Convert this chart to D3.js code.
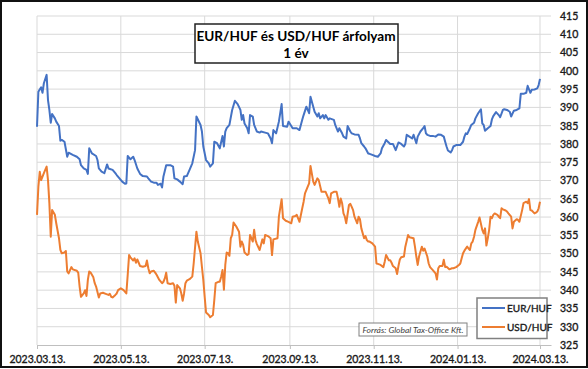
<!DOCTYPE html>
<html>
<head>
<meta charset="utf-8">
<script src="https://cdn.jsdelivr.net/npm/d3@7"></script>
<style>
  body { margin: 0; background: #fff; }
  svg { display: block; font-family: Lato, "Open Sans", sans-serif; }
</style>
</head>
<body>
<svg id="chart" width="588" height="369"></svg>
<script>
// first day of the period, all series positions are days counted from here
const startDate = "2023-03-13";

// EUR/HUF
const eurDays = [
  0,1,3,4,5,7,8,9,10,11,
  13,14,16,17,18,20,22,23,26,29,
  31,32,34,36,37,38,40,43,44,45,
  47,49,51,52,55,57,58,60,62,64,
  65,66,68,70,71,73,75,77,80,81,
  83,85,87,88,90,91,92,94,97,99,
  100,102,104,106,107,109,111,113,115,116,
  119,120,121,123,125,126,128,129,131,133,
  135,136,137,138,140,142,144,146,148,149,
  150,151,153,154,155,157,158,160,162,163,
  166,168,170,171,172,174,176,178,179,182,
  183,185,186,189,191,193,194,196,197,198,
  199,201,202,204,205,206,208,209,210,212,
  213,216,217,219,220,222,223,225,226,228,
  229,231,234,235,236,238,239,241,242,244,
  246,248,250,251,253,254,257,259,261,263,
  265,267,268,269,271,273,274,276,277,279,
  281,282,283,284,286,288,290,292,294,296,
  297,298,299,301,302,303,305,308,310,311,
  312,313,315,316,318,319,321,323,324,325,
  326,328,330,331,332,334,336,337,339,340,
  342,344,345,347,349,351,352,354,356,357,
  359,360,362,364,365,366
];
const eurValues = [
  384.7,394.3,395.5,394.0,396.6,398.9,392.0,389.3,385.8,388.2,
  387.0,386.1,384.9,380.9,381.1,380.6,376.5,377.6,377.0,376.5,
  375.8,374.2,373.3,372.9,371.8,378.8,377.4,376.7,375.6,373.3,
  372.4,372.0,374.4,373.3,372.9,372.0,371.5,370.6,369.7,369.1,
  369.2,376.7,375.8,376.5,375.6,373.3,371.8,371.2,371.1,370.6,
  369.7,369.4,369.4,368.8,369.1,368.1,371.1,374.2,374.2,373.8,
  370.6,370.3,369.7,369.0,371.1,371.2,372.9,374.7,378.3,387.5,
  385.2,383.4,379.3,375.6,374.7,373.8,374.7,380.6,380.2,378.8,
  382.2,379.3,383.4,384.3,385.2,389.3,391.8,390.9,389.3,386.6,
  387.9,385.6,384.3,382.9,387.9,387.5,385.2,383.4,383.1,383.4,
  383.1,382.9,381.5,380.2,383.8,382.9,386.1,390.9,384.9,384.7,
  386.1,384.9,384.3,384.3,383.8,386.6,387.9,390.2,389.3,388.4,
  392.9,390.2,388.8,387.5,388.4,387.0,387.9,387.0,387.9,386.6,
  387.0,386.6,385.2,383.4,384.3,382.9,382.0,381.5,384.9,383.4,
  382.9,382.6,382.5,381.5,380.2,379.3,378.8,377.4,377.3,377.0,
  376.7,376.5,377.4,378.8,380.2,381.1,380.0,380.0,378.3,380.4,
  380.0,379.3,380.0,382.5,382.0,381.5,382.5,380.2,382.0,383.4,
  384.3,384.9,382.9,382.5,382.2,382.2,382.0,382.6,382.5,382.0,
  380.6,379.3,378.2,377.7,378.3,379.3,379.7,379.7,380.6,382.0,
  382.9,382.7,384.3,385.2,385.8,387.0,388.4,389.5,385.6,385.2,
  383.6,384.3,384.9,386.7,387.6,388.7,387.9,387.3,389.3,389.5,
  389.3,388.8,387.5,389.1,389.3,389.7,393.7,393.7,394.0,395.9,
  394.0,394.8,394.9,395.2,396.1,397.8
];

// USD/HUF
const usdDays = [
  0,1,2,3,5,7,8,9,10,11,
  13,14,16,17,18,20,21,22,23,25,
  26,29,30,31,32,34,35,36,37,38,
  39,41,42,43,45,46,48,50,52,53,
  54,55,57,58,59,61,63,65,66,67,
  68,70,71,72,73,74,75,77,79,80,
  81,82,83,85,86,87,89,91,92,93,
  94,95,97,99,100,101,102,104,105,106,
  107,108,109,111,113,114,116,117,119,120,
  121,122,123,125,126,128,129,130,132,133,
  134,135,136,137,138,139,140,141,142,143,
  145,147,148,149,150,151,153,154,155,157,
  158,159,160,162,164,165,166,168,170,171,
  172,175,176,178,179,181,183,185,186,188,
  189,191,193,194,195,197,198,199,201,202,
  204,205,207,208,210,212,213,214,216,218,
  219,220,221,222,223,224,225,227,228,229,
  230,231,233,234,235,236,238,239,240,241,
  242,244,246,247,248,250,252,253,254,256,
  257,258,259,261,262,263,264,265,267,268,
  270,271,274,275,276,277,278,280,281,282,
  284,285,286,288,290,291,292,293,295,296,
  297,298,300,302,303,305,307,308,309,310,
  311,313,314,315,316,317,318,319,321,322,
  324,325,326,327,328,329,330,331,332,333,
  335,336,337,338,339,341,342,343,345,346,
  347,349,350,351,353,354,356,357,358,359,
  360,362,363,364,365,366
];
const usdValues = [
  360.6,368.3,372.4,370.1,372.0,373.8,370.1,363.8,354.6,361.9,
  360.6,358.3,354.2,351.0,350.1,350.3,350.7,345.1,344.6,346.3,
  345.7,345.3,344.8,341.0,338.2,339.1,340.0,338.4,342.8,345.1,
  344.8,343.5,341.9,341.0,338.0,339.1,339.3,339.0,338.7,339.0,
  338.2,338.0,338.7,339.1,340.0,340.5,340.0,339.1,344.2,349.6,
  349.0,348.1,348.7,347.5,348.4,347.5,346.6,346.4,346.6,348.1,
  346.0,344.6,345.1,345.3,344.8,344.2,342.8,341.9,342.3,343.2,
  344.8,341.9,341.7,341.9,341.2,336.6,341.4,340.5,339.1,337.1,
  339.1,341.9,342.6,343.0,343.7,347.3,356.0,353.3,350.1,346.4,
  342.8,338.2,333.9,333.2,332.6,333.2,337.3,341.9,342.3,342.3,
  343.7,345.5,340.1,346.9,350.3,350.1,349.4,354.2,355.1,358.5,
  357.4,356.0,351.9,353.3,352.4,350.3,349.6,349.9,355.1,353.3,
  356.5,353.7,352.6,351.0,353.9,352.8,355.1,354.8,354.2,349.6,
  353.9,354.2,360.1,364.9,359.7,359.0,358.7,358.3,360.1,360.3,
  360.6,358.7,362.4,364.2,366.5,368.3,369.2,374.0,369.7,368.8,
  370.6,370.1,366.9,366.9,366.9,365.1,363.8,366.5,366.9,366.9,
  365.1,362.8,365.1,363.8,361.0,360.1,358.3,363.3,363.6,362.8,
  361.9,360.1,358.3,360.1,359.4,356.9,354.2,354.8,353.7,353.3,
  353.3,352.8,351.9,347.3,347.2,346.9,346.3,347.8,349.6,348.2,
  348.2,347.5,346.6,346.0,344.4,346.6,348.4,349.0,349.2,351.9,
  355.1,354.5,354.2,351.9,349.2,346.9,349.2,351.9,350.8,351.4,
  349.2,347.3,346.3,345.5,344.6,342.9,346.0,346.6,346.6,348.3,
  346.3,346.4,345.7,346.0,346.0,346.3,346.9,347.3,348.7,350.1,
  350.8,351.9,351.4,351.0,352.8,353.3,354.6,356.5,358.7,359.9,
  356.5,355.5,356.9,352.2,354.2,356.5,360.1,359.7,360.6,361.0,
  360.6,360.1,359.7,362.4,362.1,361.8,361.5,361.0,360.1,356.9,
  358.7,359.4,359.2,358.7,361.9,363.8,364.2,363.8,364.9,361.9,
  361.8,361.0,361.2,361.5,362.4,364.2
];

// axis ticks
const dateTickDays = [0, 61, 122, 184, 245, 306, 366];
const dateTickLabels = ["2023.03.13.", "2023.05.13.", "2023.07.13.", "2023.09.13.", "2023.11.13.", "2024.01.13.", "2024.03.13."];
const yTicks = [325, 330, 335, 340, 345, 350, 355, 360, 365, 370, 375, 380, 385, 390, 395, 400, 405, 410, 415];

const seriesNames = ["EUR/HUF", "USD/HUF"];
const seriesColors = ["#4472C4", "#ED7D31"];

const t0 = new Date(startDate + "T00:00:00Z");
const toDate = d => d3.utcDay.offset(t0, d);

const plotLeft = 37, plotRight = 551, plotTop = 16, plotBottom = 345;
const labelColor = "#1a1a1a";

const svg = d3.select("#chart");

const x = d3.scaleUtc()
	.domain([t0, toDate(374)])
	.range([plotLeft, plotRight]);

const y = d3.scaleLinear()
	.domain([325, 415])
	.range([plotBottom, plotTop]);

// outer frame
svg.append("rect")
	.attr("x", 1).attr("y", 1)
	.attr("width", 586).attr("height", 366)
	.attr("fill", "#fff")
	.attr("stroke", "#111")
	.attr("stroke-width", 2);

// horizontal grid
svg.append("g")
	.selectAll("line")
	.data(yTicks.filter(v => v > 325))
	.join("line")
	.attr("x1", plotLeft).attr("x2", plotRight)
	.attr("y1", d => y(d)).attr("y2", d => y(d))
	.attr("stroke", "#d9d9d9")
	.attr("stroke-width", 1);

// vertical grid
svg.append("g")
	.selectAll("line")
	.data(dateTickDays)
	.join("line")
	.attr("x1", d => x(toDate(d))).attr("x2", d => x(toDate(d)))
	.attr("y1", plotTop).attr("y2", plotBottom)
	.attr("stroke", "#d9d9d9")
	.attr("stroke-width", 1);

// make small labels look like the heavier originals
function labelStyle(sel, size){
	sel.attr("fill", labelColor)
		.attr("stroke", labelColor)
		.attr("stroke-width", 0.35)
		.style("font-size", size + "px")
		.style("font-family", "Lato, sans-serif");
}

// bottom axis
const xAxis = svg.append("g")
	.attr("transform", `translate(0,${plotBottom})`)
	.call(d3.axisBottom(x)
		.tickValues(dateTickDays.map(toDate))
		.tickFormat((d, i) => dateTickLabels[i])
		.tickSize(4)
		.tickSizeOuter(0)
		.tickPadding(7));
xAxis.select(".domain").attr("stroke", "#bfbfbf");
xAxis.selectAll(".tick line").attr("stroke", "#bfbfbf");
xAxis.selectAll("text").call(labelStyle, 10.5);

// right value axis
const yAxis = svg.append("g")
	.attr("transform", `translate(${plotRight},0)`)
	.call(d3.axisRight(y)
		.tickValues(yTicks)
		.tickSize(0)
		.tickPadding(9));
yAxis.select(".domain").remove();
yAxis.selectAll("text").call(labelStyle, 10.5);

// lines
const line = d3.line()
	.x(d => x(toDate(d[0])))
	.y(d => y(d[1]));

const series = [
	d3.zip(eurDays, eurValues),
	d3.zip(usdDays, usdValues)
];

svg.append("g")
	.selectAll("path")
	.data(series)
	.join("path")
	.attr("d", line)
	.attr("fill", "none")
	.attr("stroke", (d, i) => seriesColors[i])
	.attr("stroke-width", 2)
	.attr("stroke-linejoin", "round");

// title
const title = svg.append("g");
title.append("rect")
	.attr("x", 195).attr("y", 24)
	.attr("width", 203).attr("height", 39)
	.attr("fill", "#fff")
	.attr("stroke", "#222")
	.attr("stroke-width", 1.5);
title.selectAll("text")
	.data(["EUR/HUF és USD/HUF árfolyam", "1 év"])
	.join("text")
	.attr("x", 296)
	.attr("y", (d, i) => 40.5 + i * 17)
	.attr("text-anchor", "middle")
	.attr("font-size", 13.6)
	.attr("font-weight", "bold")
	.attr("fill", "#000")
	.text(d => d);

// source note
const note = svg.append("g");
note.append("rect")
	.attr("x", 359).attr("y", 323)
	.attr("width", 108).attr("height", 13)
	.attr("fill", "#fff")
	.attr("stroke", "#808080")
	.attr("stroke-width", 1);
note.append("text")
	.attr("x", 413).attr("y", 332.5)
	.attr("text-anchor", "middle")
	.attr("font-size", 8.5)
	.attr("font-style", "italic")
	.attr("fill", "#404040")
	.text("Forrás: Global Tax-Office Kft.");

// legend
const legend = svg.append("g");
legend.append("rect")
	.attr("x", 477).attr("y", 298)
	.attr("width", 70).attr("height", 40.5)
	.attr("fill", "#fff")
	.attr("stroke", "#808080")
	.attr("stroke-width", 1.5);
const items = legend.selectAll("g.item")
	.data(seriesNames)
	.join("g")
	.attr("class", "item")
	.attr("transform", (d, i) => `translate(0,${308 + i * 19})`);
items.append("line")
	.attr("x1", 482).attr("x2", 505)
	.attr("stroke", (d, i) => seriesColors[i])
	.attr("stroke-width", 2);
items.append("text")
	.attr("x", 507).attr("y", 3.5)
	.call(labelStyle, 10);
items.selectAll("text").text(d => d);
</script>
</body>
</html>
